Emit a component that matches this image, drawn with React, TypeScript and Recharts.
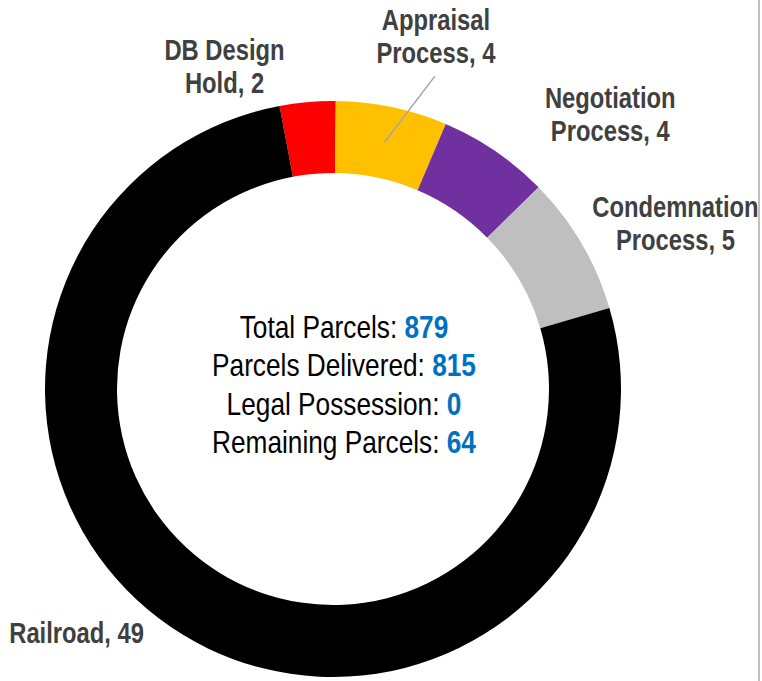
import React from "react";
import { PieChart, Pie, Cell } from "recharts";

const categories = ["DB Design Hold", "Appraisal Process", "Negotiation Process", "Condemnation Process", "Railroad"];
const values = [2, 4, 4, 5, 49];
const sliceColors = ["#FF0000", "#FFC000", "#7030A0", "#BFBFBF", "#000000"];

const summaryLabels = ["Total Parcels: ", "Parcels Delivered: ", "Legal Possession: ", "Remaining Parcels: "];
const summaryValues = [879, 815, 0, 64];

// label placement offsets (relative to the outer-edge midpoint of each slice)
const labelOffsets = [
  [-83, -36],
  [44, -71],
  [115, -37],
  [94, -20],
  [-106, -2],
];

const data = categories.map((name, i) => ({ name, value: values[i] }));

const RAD = Math.PI / 180;
const FONT = "'Liberation Sans', Arial, sans-serif";
const NARROW = 0.82;

function splitLabel(name: string, value: number): string[] {
  const words = name.split(" ");
  if (words.length <= 1) return [`${name}, ${value}`];
  const last = words.pop();
  return [words.join(" "), `${last}, ${value}`];
}

const CenterText = ({ cx, cy }: { cx: number; cy: number }) => {
  const baselines = [-51, -12.5, 26, 64.5];
  return (
    <g transform={`translate(${cx + 11},0) scale(${NARROW},1)`}>
      <text textAnchor="middle" fontFamily={FONT} fontSize={32} fill="#000000">
        {summaryLabels.map((lab, i) => (
          <tspan key={i} x={0} y={cy + baselines[i]}>
            {lab}
            <tspan fill="#0070C0" fontWeight="bold">{summaryValues[i]}</tspan>
          </tspan>
        ))}
      </text>
    </g>
  );
};

const renderLabel = (props: any) => {
  const { cx, cy, midAngle, outerRadius, innerRadius, index, name, value } = props;
  const ox = cx + outerRadius * Math.cos(-midAngle * RAD);
  const oy = cy + outerRadius * Math.sin(-midAngle * RAD);
  const [dx, dy] = labelOffsets[index];
  const x = ox + dx;
  const y = oy + dy;
  const lines = splitLabel(name, value);
  const midR = (innerRadius + outerRadius) / 2;
  const lx = cx + midR * Math.cos(-midAngle * RAD);
  const ly = cy + midR * Math.sin(-midAngle * RAD);
  return (
    <g key={`lbl-${index}`}>
      {index === 0 && <CenterText cx={cx} cy={cy} />}
      {index === 1 && (
        <line x1={lx} y1={ly} x2={x - 1} y2={y + 40} stroke="#A6A6A6" strokeWidth={1.5} />
      )}
      <g transform={`translate(${x},0) scale(${NARROW},1)`}>
        <text textAnchor="middle" fontFamily={FONT} fontWeight="bold" fontSize={29} fill="#404040">
          {lines.length === 1 ? (
            <tspan x={0} y={y + 10}>{lines[0]}</tspan>
          ) : (
            <>
              <tspan x={0} y={y - 6}>{lines[0]}</tspan>
              <tspan x={0} y={y + 27}>{lines[1]}</tspan>
            </>
          )}
        </text>
      </g>
    </g>
  );
};

export default function App() {
  return (
    <div style={{ position: "relative", width: 762, height: 681, background: "#ffffff", overflow: "hidden" }}>
      <style>{"body{margin:0;}"}</style>
      <PieChart width={758} height={681} margin={{ top: 0, right: 0, bottom: 0, left: 0 }}>
        <Pie
          data={data}
          dataKey="value"
          nameKey="name"
          cx={333}
          cy={389}
          innerRadius={216}
          outerRadius={288}
          startAngle={100.7}
          endAngle={-259.3}
          stroke="none"
          label={renderLabel}
          labelLine={false}
          isAnimationActive={false}
        >
          {data.map((d, i) => (
            <Cell key={d.name} fill={sliceColors[i]} />
          ))}
        </Pie>
      </PieChart>
      <div style={{ position: "absolute", left: 758, top: 0, width: 2, height: 681, background: "#C0C0C0" }} />
    </div>
  );
}
